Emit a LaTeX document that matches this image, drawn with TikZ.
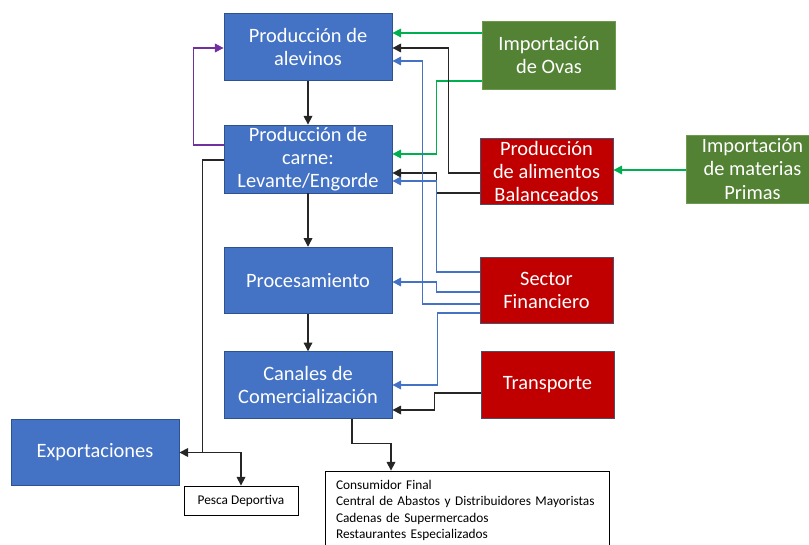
\documentclass[tikz,border=0pt]{standalone}
\usepackage{fontspec}
\setmainfont{Carlito}
\usetikzlibrary{arrows.meta}

\definecolor{boxblue}{HTML}{4472C4}
\definecolor{boxblueline}{HTML}{2F528F}
\definecolor{boxgreen}{HTML}{548235}
\definecolor{boxgreenline}{HTML}{6E9A4E}
\definecolor{boxred}{HTML}{C00000}
\definecolor{boxredline}{HTML}{4A4F6A}
\definecolor{linkblue}{HTML}{4472C4}
\definecolor{linkgreen}{HTML}{00B050}
\definecolor{linkdark}{HTML}{262626}
\definecolor{linkpurple}{HTML}{7030A0}

\tikzset{
  mainbox/.style={draw=boxblueline, line width=0.6pt, fill=boxblue, text=white,
    align=center, inner sep=0pt, minimum width=126pt, minimum height=50pt,
    font=\fontsize{15.3}{17.4}\selectfont},
  sidebox/.style={mainbox, minimum width=99.75pt},
  greenbox/.style={sidebox, fill=boxgreen, draw=boxgreenline},
  redbox/.style={sidebox, fill=boxred, draw=boxredline},
  whitebox/.style={draw=black, line width=0.6pt, fill=white, inner sep=0pt,
    font=\fontsize{10}{12.2}\selectfont},
  link/.style={line width=0.9pt, -{Triangle[length=6.5pt,width=6.5pt]}},
  darklink/.style={link, draw=linkdark},
  bluelink/.style={link, draw=linkblue},
  greenlink/.style={link, draw=linkgreen},
  purplelink/.style={link, draw=linkpurple},
}

\begin{document}
\begin{tikzpicture}[x=0.75pt, y=-0.75pt]
\useasboundingbox (0,0) rectangle (809,545);

% value-chain boxes
\node[mainbox] (alev)  at (308,47)    {Producción de\\alevinos};
\node[mainbox, minimum height=51pt] (carne) at (308,159) {Producción de\\carne:\\Levante/Engorde};
\node[mainbox] (proc)  at (308,280.5) {Procesamiento};
\node[mainbox] (canal) at (308,385)   {Canales de\\Comercialización};
\node[mainbox] (expo)  at (95,452.5)  {Exportaciones};

% support boxes
\node[greenbox, minimum height=51pt] (ovas)  at (549,55)    {Importación\\de Ovas};
\node[redbox]   (alim)  at (546.5,171.5) {Producción\\de alimentos\\Balanceados};
\node[greenbox, minimum height=51pt] (mat) at (752.5,169) {Importación\\de materias\\Primas};
\node[redbox]   (fin)   at (546.5,290.5) {Sector\\Financiero};
\node[redbox]   (trans) at (547.5,385)   {Transporte};

% destination boxes
\node[whitebox, minimum width=85.5pt, minimum height=21.75pt] (pesca) at (241,500.5) {Pesca Deportiva};
\node[whitebox, minimum width=213pt, minimum height=59.25pt, align=left,
      text width=196.5pt] (cons) at (467,510.5)
  {Consumidor Final\\Central de Abastos y Distribuidores Mayoristas\\Cadenas de Supermercados\\Restaurantes Especializados};

% rows and columns used by the connectors
\coordinate (r33)  at (0,33);
\coordinate (r48)  at (0,48);
\coordinate (r61)  at (0,61);
\coordinate (r81)  at (0,81);
\coordinate (r145) at (0,145);
\coordinate (r154) at (0,154);
\coordinate (r160) at (0,160);
\coordinate (r170) at (0,170);
\coordinate (r173) at (0,173);
\coordinate (r181) at (0,181);
\coordinate (r193) at (0,193);
\coordinate (r272) at (0,272);
\coordinate (r282) at (0,282);
\coordinate (r292) at (0,292);
\coordinate (r304) at (0,304);
\coordinate (r313) at (0,313);
\coordinate (r385) at (0,385);
\coordinate (r393) at (0,393);
\coordinate (r410) at (0,410);
\coordinate (c352) at (352,0);
\coordinate (c391) at (391,0);
\coordinate (split) at (203,452.5);

% main chain
\draw[darklink] (alev.south) -- (carne.north);
\draw[darklink] (carne.south) -- (proc.north);
\draw[darklink] (proc.south) -- (canal.north);
\draw[purplelink] (carne.west |- r145) -- ++(-30,0) |- (alev.west |- r48);

% egg imports
\draw[greenlink] (ovas.west |- r33) -- (alev.east |- r33);
\draw[greenlink] (ovas.west |- r81) -- ++(-46,0) |- (carne.east |- r154);

% feed production
\draw[darklink] (alim.west |- r173) -- ++(-31,0) |- (alev.east |- r48);
\draw[darklink] (alim.west |- r193) -- ++(-43,0) |- (carne.east |- r173);
\draw[greenlink] (mat.west |- r170) -- (alim.east |- r170);

% finance
\draw[bluelink] (fin.west |- r272) -- ++(-43,0) |- (carne.east |- r181);
\draw[bluelink] (fin.west |- r292) -- ++(-43,0) |- (proc.east |- r282);
\draw[bluelink] (fin.west |- r304) -- ++(-57,0) |- (alev.east |- r61);
\draw[bluelink] (fin.west |- r313) -- ++(-42,0) |- (canal.east |- r385);

% transport
\draw[darklink] (trans.west |- r393) -- ++(-46,0) |- (canal.east |- r410);

% exports and sport fishing
\draw[darklink] (carne.west |- r160) -- ++(-21,0) |- (expo.east);
\draw[darklink] (split) -| (pesca.north);

% retail channels
\draw[darklink] (canal.south -| c352) -- ++(0,25) -| (cons.north -| c391);
\end{tikzpicture}
\end{document}
